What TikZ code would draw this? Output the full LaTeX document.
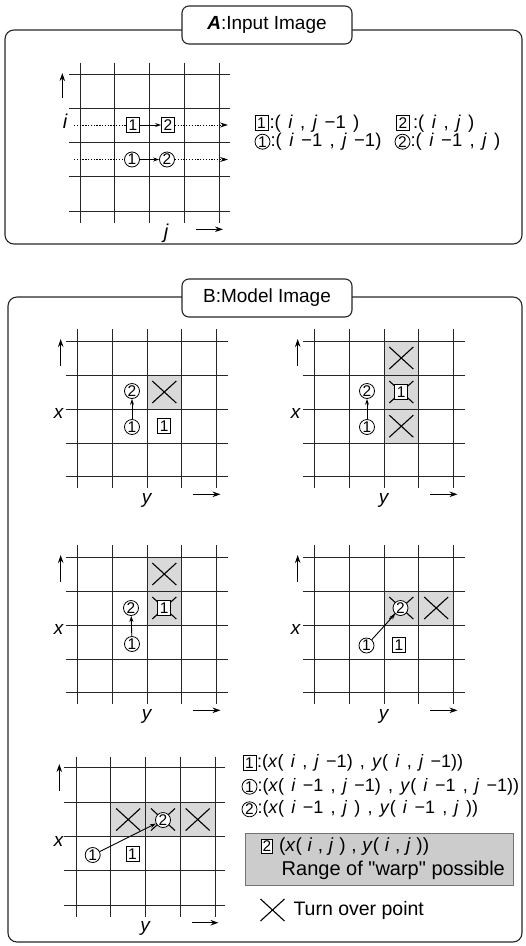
\documentclass[tikz,border=0pt]{standalone}
\usepackage{fontspec}
\setmainfont{Liberation Sans}
\newfontfamily\qfont{Liberation Sans}
\usetikzlibrary{arrows.meta}
\newcommand{\gp}{\hspace{0.4em}}
\newcommand{\gridB}{%
  \foreach \x in {77.3,112.3,147,181.7,216.7} \draw[gridline] (\x,329.3) -- (\x,488.3);
  \foreach \y in {341,375,409,443.3,476.7} \draw[gridline] (66,\y) -- (228.3,\y);
}
\newcommand{\axesB}[1]{%
  \coordinate (#1u0) at (60.7,366); \coordinate (#1u1) at (60.7,339);
  \draw[axarrow] (#1u0) -- (#1u1);
  \coordinate (#1r0) at (193.3,494.3); \coordinate (#1r1) at (220.5,494.3);
  \draw[axarrow] (#1r0) -- (#1r1);
  \node[labB] (#1x) at (58.5,413) {x};
  \node[labB] (#1y) at (146.7,500) {y};
}
\begin{document}
\begin{tikzpicture}[x=1pt,y=-1pt,
  frame/.style={draw=black!85,line width=1.1pt,rounded corners=9pt},
  titlebox/.style={draw=black!85,fill=white,line width=1.1pt,rounded corners=7pt,minimum width=170pt,minimum height=38pt,font=\fontsize{19}{22}\selectfont,inner sep=0pt},
  gridline/.style={draw=black!85,line width=1pt},
  cnum/.style={circle,draw,fill=white,line width=0.8pt,inner sep=0pt,minimum size=15pt,font=\fontsize{15.5}{15}\selectfont},
  bnum/.style={rectangle,draw,fill=white,line width=0.8pt,inner sep=0pt,minimum width=13pt,minimum height=15pt,font=\fontsize{15.5}{15}\selectfont},
  lab/.style={font=\fontsize{20}{22}\selectfont\itshape,inner sep=0pt},
  labB/.style={font=\fontsize{19}{22}\selectfont\itshape,inner sep=0pt},
  axarrow/.style={line width=1.1pt,-{Stealth[length=8pt,width=5.5pt]}},
  link/.style={line width=0.9pt,-{Stealth[length=6pt,width=4pt]}},
  dotline/.style={line width=0.9pt,dash pattern=on 1.3pt off 1.5pt},
  cellfill/.style={fill=black!15},
  xline/.style={line width=1.1pt},
  legtext/.style={font=\fontsize{18.5}{20}\selectfont,anchor=west,inner sep=0pt},
  legtextB/.style={font=\fontsize{18}{20}\selectfont,anchor=west,inner sep=0pt},
  xm/.pic={\draw[xline] (-12,-11) -- (12,11) (-12,11) -- (12,-11);},
]
\useasboundingbox (0,0) rectangle (526,946);

% ===== Panel A =====
\draw[frame] (5,30) rectangle (522,244);
\node[titlebox] (tA) at (267,25) {\textbf{\textit{A}}:Input Image};

\foreach \x in {80,114.3,149.3,184,219.3} \draw[gridline] (\x,62.7) -- (\x,222.7);
\foreach \y in {74,108.3,142.7,176.7,211.7} \draw[gridline] (69.3,\y) -- (230,\y);
\coordinate (aup0) at (62.3,98); \coordinate (aup1) at (62.3,73);
\draw[axarrow] (aup0) -- (aup1);
\coordinate (art0) at (196,229.3); \coordinate (art1) at (223,229.3);
\draw[axarrow] (art0) -- (art1);
\node[lab] (Ai) at (65,121) {i};
\node[lab] (Aj) at (166,233) {j};

\coordinate (Ar1s) at (74,125); \coordinate (Ar1e) at (228,125);
\coordinate (Ar2s) at (74,159.5); \coordinate (Ar2e) at (228,159.5);
\node[bnum] (Ab1) at (133,125) {1};
\node[bnum] (Ab2) at (168,125) {2};
\node[cnum] (Ac1) at (132,159.5) {1};
\node[cnum] (Ac2) at (167,159.5) {2};
\draw[dotline] (Ar1s) -- (Ab1);
\draw[link] (Ab1) -- (Ab2);
\draw[dotline,-{Stealth[length=8pt,width=5pt]}] (Ab2) -- (Ar1e);
\draw[dotline] (Ar2s) -- (Ac1);
\draw[link] (Ac1) -- (Ac2);
\draw[dotline,-{Stealth[length=8pt,width=5pt]}] (Ac2) -- (Ar2e);

% legend A
\node[bnum] (La1) at (261.5,123.3) {1};
\node[legtext] (La1t) at ([xshift=1pt]La1.east) {:(\gp\textit{i}\gp,\gp\textit{j}\gp−1\gp)};
\node[bnum] (La2) at (403,123.3) {2};
\node[legtext] (La2t) at ([xshift=3pt]La2.east) {:(\gp\textit{i}\gp,\gp\textit{j}\gp)};
\node[cnum] (Lc1) at (262.5,141.7) {1};
\node[legtext] (Lc1t) at ([xshift=0pt]Lc1.east) {:(\gp\textit{i}\gp−1\gp,\gp\textit{j}\gp−1)};
\node[cnum] (Lc2) at (402.5,141.7) {2};
\node[legtext] (Lc2t) at ([xshift=0pt]Lc2.east) {:(\gp\textit{i}\gp−1\gp,\gp\textit{j}\gp)};

% ===== Panel B =====
\draw[frame] (8,297) rectangle (522,942);
\node[titlebox] (tB) at (267,298) {B:Model Image};

% B1
\begin{scope}
  \fill[cellfill] (147,375) rectangle (181.7,409);
  \gridB
  \axesB{p1}
  \pic at (164.3,392) {xm};
  \node[cnum] (p1c2) at (132,391) {2};
  \node[cnum] (p1c1) at (132,427) {1};
  \node[bnum] (p1b1) at (164.3,426) {1};
  \draw[link] (p1c1) -- (p1c2);
\end{scope}

% B2
\begin{scope}[shift={(237,0)}]
  \fill[cellfill] (147,341) rectangle (181.7,443.3);
  \gridB
  \axesB{p2}
  \pic at (164.3,358) {xm};
  \pic at (164.3,392) {xm};
  \pic at (164.3,426.2) {xm};
  \node[bnum] (p2b1) at (164.3,392) {1};
  \node[cnum] (p2c2) at (130,391) {2};
  \node[cnum] (p2c1) at (130,427) {1};
  \draw[link] (p2c1) -- (p2c2);
\end{scope}

% B3
\begin{scope}[shift={(0,216)}]
  \fill[cellfill] (147,341) rectangle (181.7,409);
  \gridB
  \axesB{p3}
  \pic at (164.3,358) {xm};
  \pic at (164.3,392) {xm};
  \node[bnum] (p3b1) at (164.3,392) {1};
  \node[cnum] (p3c2) at (131,392) {2};
  \node[cnum] (p3c1) at (132,428) {1};
  \draw[link] (p3c1) -- (p3c2);
\end{scope}

% B4
\begin{scope}[shift={(237,216)}]
  \fill[cellfill] (147,375) rectangle (216.7,409);
  \gridB
  \axesB{p4}
  \pic at (164.3,392) {xm};
  \pic at (199.2,392) {xm};
  \node[cnum] (p4c2) at (163.5,392) {2};
  \node[cnum] (p4c1) at (129.5,429.5) {1};
  \node[bnum] (p4b1) at (162,429) {1};
  \draw[link] (p4c1) -- (p4c2);
\end{scope}

% B5
\fill[cellfill] (110.7,802.3) rectangle (215,836.7);
\foreach \x in {76,110.7,145.7,180.3,215} \draw[gridline] (\x,756.7) -- (\x,916.7);
\foreach \y in {767.7,802.3,836.7,870.7,905.7} \draw[gridline] (64.3,\y) -- (225,\y);
\coordinate (p5u0) at (59.3,791); \coordinate (p5u1) at (59.3,764);
\draw[axarrow] (p5u0) -- (p5u1);
\coordinate (p5r0) at (191.7,922.7); \coordinate (p5r1) at (218.5,922.7);
\draw[axarrow] (p5r0) -- (p5r1);
\node[labB] (p5x) at (58.5,841) {x};
\node[labB] (p5y) at (145,928) {y};
\pic at (128.2,819.5) {xm};
\pic at (163,819.5) {xm};
\pic at (197.7,819.5) {xm};
\node[cnum] (p5c2) at (163,820) {2};
\node[cnum] (p5c1) at (92.7,855) {1};
\node[bnum] (p5b1) at (132.5,854) {1};
\draw[link] (p5c1) -- (p5c2);

% legend B
\node[bnum] (Lb1) at (249.5,763.3) {1};
\node[legtextB] (Lb1t) at ([xshift=0.5pt]Lb1.east) {:(\textit{x}(\gp\textit{i}\gp,\gp\textit{j}\gp−1)\gp,\gp\textit{y}(\gp\textit{i}\gp,\gp\textit{j}\gp−1))};
\node[cnum] (Lb2) at (249.5,786.7) {1};
\node[legtextB] (Lb2t) at ([xshift=0pt]Lb2.east) {:(\textit{x}(\gp\textit{i}\gp−1\gp,\gp\textit{j}\gp−1)\gp,\gp\textit{y}(\gp\textit{i}\gp−1\gp,\gp\textit{j}\gp−1))};
\node[cnum] (Lb3) at (249.5,809.3) {2};
\node[legtextB] (Lb3t) at ([xshift=0pt]Lb3.east) {:(\textit{x}(\gp\textit{i}\gp−1\gp,\gp\textit{j}\gp)\gp,\gp\textit{y}(\gp\textit{i}\gp−1\gp,\gp\textit{j}\gp))};
\node[draw=black!55,fill=black!20,line width=0.8pt,minimum width=267.7pt,minimum height=52.3pt,inner sep=0pt,anchor=north west] (Lgray) at (245,832.7) {};
\node[bnum,minimum width=11pt,minimum height=14pt] (Lb4) at (267,846.5) {2};
\node[legtextB,font=\fontsize{19}{22}\selectfont] (Lb4t) at (279,846.5) {(\textit{x}(\hspace{0.3em}\textit{i}\hspace{0.3em},\hspace{0.3em}\textit{j}\hspace{0.3em})\hspace{0.3em},\hspace{0.3em}\textit{y}(\hspace{0.3em}\textit{i}\hspace{0.3em},\hspace{0.3em}\textit{j}\hspace{0.3em}))};
\node[legtextB,font=\fontsize{20}{22}\selectfont] (Lrange) at (281.5,870) {Range of {\qfont "}warp{\qfont "} possible};
\pic at (272.5,910) {xm};
\node[legtextB,font=\fontsize{19.5}{22}\selectfont] (Lturn) at (293.3,910) {Turn over point};
\end{tikzpicture}
\end{document}
